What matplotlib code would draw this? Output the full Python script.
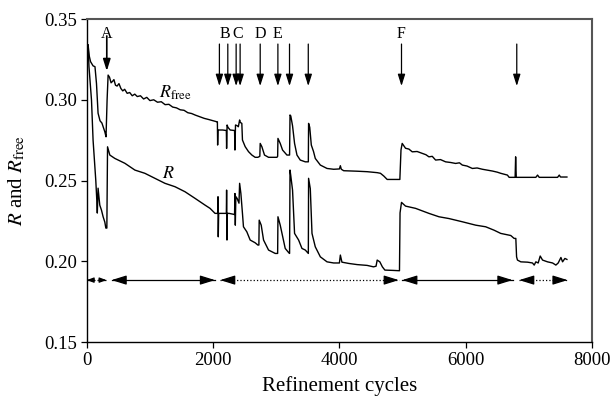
import numpy as np
import matplotlib
matplotlib.use("Agg")
import matplotlib.pyplot as plt

plt.rcParams['font.family'] = ['Liberation Serif', 'DejaVu Serif']
plt.rcParams['mathtext.fontset'] = 'stix'

# R_free trace (refinement cycle, value)
rfree_cyc = [21, 40, 60, 100, 130, 154, 179, 210, 240, 286, 305, 322, 338, 360, 385, 410, 430, 455, 480, 510,
             540, 570, 600, 640, 680, 720, 760, 800, 850, 900, 950, 1000, 1060, 1120, 1180, 1240, 1300, 1360,
             1420, 1480, 1540, 1600, 1660, 1720, 1790, 1860, 1930, 2000, 2058,
             2068, 2072, 2078, 2150, 2210, 2214, 2222, 2235, 2270, 2340, 2346, 2355, 2380, 2400, 2420, 2430,
             2455, 2465, 2508, 2561, 2614, 2666, 2709, 2740, 2746, 2772, 2814, 2878, 2950, 3011, 3022, 3027,
             3063, 3100, 3169, 3211, 3218, 3230, 3258, 3290, 3328, 3380, 3460, 3508, 3512, 3530, 3555, 3590,
             3618, 3698, 3804, 3909, 4000, 4015, 4030, 4068, 4280, 4439, 4598, 4650, 4703, 4756, 4957, 4975,
             4994, 5047, 5100, 5153, 5230, 5312, 5370, 5417, 5470, 5523, 5600, 5681, 5760, 5840, 5900, 5946,
             6020, 6105, 6180, 6264, 6340, 6423, 6500, 6554, 6660, 6687, 6782, 6790, 6800, 7110, 7137, 7163,
             7454, 7481, 7500, 7602]
rfree_val = [0.334, 0.327, 0.3236, 0.321, 0.3205, 0.310, 0.2917, 0.287, 0.2856, 0.2802, 0.2771, 0.300, 0.3153,
             0.314, 0.3105, 0.3115, 0.3125, 0.309, 0.3085, 0.310, 0.307, 0.3055, 0.3065, 0.304, 0.3045, 0.3025,
             0.3035, 0.302, 0.3025, 0.3005, 0.3015, 0.2995, 0.300, 0.2985, 0.2988, 0.297, 0.2972, 0.2955, 0.295,
             0.2938, 0.2935, 0.292, 0.2915, 0.2905, 0.2895, 0.2885, 0.2878, 0.287, 0.2864,
             0.2864, 0.272, 0.2813, 0.2813, 0.281, 0.2699, 0.2844, 0.283, 0.2813, 0.281, 0.2689, 0.2844, 0.284,
             0.2833, 0.2875, 0.286, 0.2854, 0.2751, 0.271, 0.2679, 0.2658, 0.2644, 0.2644, 0.265, 0.273, 0.271,
             0.2658, 0.2644, 0.2644, 0.2644, 0.265, 0.2761, 0.273, 0.2689, 0.2658, 0.2658, 0.2906, 0.290, 0.2839,
             0.273, 0.2658, 0.2627, 0.2616, 0.2616, 0.2854, 0.283, 0.272, 0.268, 0.2637, 0.2596, 0.2575, 0.257,
             0.2572, 0.2592, 0.257, 0.2561, 0.2558, 0.2555, 0.2549, 0.2545, 0.2528, 0.2507, 0.2507, 0.269, 0.273,
             0.270, 0.2695, 0.2678, 0.268, 0.2668, 0.266, 0.2647, 0.265, 0.2627, 0.263, 0.2616, 0.2612, 0.2606,
             0.261, 0.2596, 0.259, 0.2575, 0.2578, 0.257, 0.2565, 0.2559, 0.2552, 0.2545, 0.2534, 0.252, 0.252,
             0.2647, 0.252, 0.252, 0.2534, 0.252, 0.252, 0.2534, 0.2522, 0.2522]

# R trace
r_cyc = [21, 35, 75, 100, 143, 159, 167, 179, 206, 233, 259, 286, 302, 318, 329, 365, 445, 603, 762, 920,
         1079, 1238, 1397, 1555, 1714, 1873, 1952, 2031, 2074, 2078, 2082, 2088, 2111, 2210, 2214, 2220, 2226,
         2254, 2340, 2346, 2352, 2360, 2380, 2410, 2420, 2440, 2465, 2481, 2534, 2587, 2666, 2709, 2725, 2730,
         2762, 2799, 2878, 2984, 3022, 3027, 3063, 3142, 3195, 3211, 3218, 3230, 3258, 3290, 3354, 3407, 3460,
         3508, 3512, 3539, 3566, 3618, 3698, 3804, 3909, 4000, 4015, 4040, 4150, 4280, 4439, 4540, 4580, 4598,
         4640, 4680, 4720, 4850, 4951, 4960, 4983, 5047, 5206, 5417, 5576, 5734, 5946, 6158, 6316, 6448, 6554,
         6713, 6766, 6793, 6805, 6819, 6872, 6978, 7057, 7084, 7110, 7147, 7179, 7216, 7295, 7375, 7427, 7464,
         7507, 7533, 7570, 7602]
r_val = [0.334, 0.3205, 0.2998, 0.275, 0.250, 0.2379, 0.2299, 0.2453, 0.2348, 0.2317, 0.2276, 0.2243, 0.2206,
         0.2206, 0.2709, 0.2658, 0.2637, 0.2607, 0.2565, 0.2545, 0.2514, 0.2483, 0.2462, 0.2431, 0.239, 0.2348,
         0.2328, 0.2297, 0.2297, 0.240, 0.2152, 0.2297, 0.2297, 0.2297, 0.2441, 0.2132, 0.2297, 0.2297, 0.229,
         0.242, 0.2224, 0.240, 0.239, 0.236, 0.2483, 0.242, 0.2297, 0.2214, 0.2183, 0.2132, 0.2115, 0.2101,
         0.2101, 0.2255, 0.2224, 0.2132, 0.207, 0.2049, 0.2049, 0.2276, 0.2224, 0.208, 0.2055, 0.2049, 0.2565,
         0.253, 0.2441, 0.2173, 0.2132, 0.208, 0.207, 0.2049, 0.2514, 0.245, 0.2173, 0.209, 0.2028, 0.1997,
         0.199, 0.199, 0.2039, 0.1995, 0.1987, 0.198, 0.1975, 0.1966, 0.197, 0.2008, 0.1997, 0.1966, 0.1946,
         0.1944, 0.1942, 0.230, 0.2365, 0.2342, 0.2328, 0.2297, 0.2276, 0.2265, 0.2245, 0.2224, 0.2214, 0.2193,
         0.2173, 0.216, 0.2142, 0.2142, 0.2028, 0.2008, 0.1997, 0.1995, 0.199, 0.1977, 0.1997, 0.199, 0.2033,
         0.2008, 0.1997, 0.199, 0.1977, 0.199, 0.2024, 0.1997, 0.2018, 0.2012]

# event arrows
event_x = [317, 2100, 2233, 2365, 2428, 2746, 3026, 3210, 3507, 4983, 6808]
event_labels = ['A', 'B', 'C', 'D', 'E', 'F']
event_label_x = [317, 2195, 2395, 2746, 3026, 4983]

# range arrows at the bottom: (start, end, style)
range_start = [0, 392, 2111, 4994, 6845]
range_end = [312, 2031, 4941, 6741, 7613]
range_style = ['-.', '-', ':', '-', ':']

fig = plt.figure(figsize=(6.11, 3.96), dpi=100)
ax = fig.add_axes([0.142, 0.136, 0.827, 0.816])

ax.plot(rfree_cyc, rfree_val, color='k', lw=1.0)
ax.plot(r_cyc, r_val, color='k', lw=1.0)

for i, x in enumerate(event_x):
    if i == 0:
        top, tip, lw = 0.3395, 0.3178, 1.2
    else:
        top, tip, lw = 0.3345, 0.3085, 0.9
    ax.annotate('', xy=(x, tip), xytext=(x, top),
                arrowprops=dict(arrowstyle='-|>,head_length=0.7,head_width=0.22',
                                color='k', lw=lw, shrinkA=0, shrinkB=0))
for lab, x in zip(event_labels, event_label_x):
    ax.text(x, 0.3405, lab, ha='center', va='center', fontsize=11.5)

y_arr = 0.1884
for x0, x1, ls in zip(range_start, range_end, range_style):
    small = ls == '-.'
    ax.plot([x0, x1], [y_arr, y_arr], color='k', lw=0.9, linestyle=ls)
    d = 120 if small else 220
    hs = '-|>,head_length=0.4,head_width=0.15' if small else '-|>,head_length=0.9,head_width=0.28'
    ax.annotate('', xy=(x0, y_arr), xytext=(x0 + d, y_arr),
                arrowprops=dict(arrowstyle=hs, color='k', lw=0.9, shrinkA=0, shrinkB=0))
    ax.annotate('', xy=(x1, y_arr), xytext=(x1 - d, y_arr),
                arrowprops=dict(arrowstyle=hs, color='k', lw=0.9, shrinkA=0, shrinkB=0))

ax.text(1150, 0.3042, r'$R_{\rm free}$', fontsize=13, ha='left', va='center')
ax.text(1190, 0.2546, r'$R$', fontsize=13, ha='left', va='center')

ax.set_xlim(0, 8000)
ax.set_ylim(0.15, 0.35)
ax.set_xticks([0, 2000, 4000, 6000, 8000])
ax.set_yticks([0.15, 0.20, 0.25, 0.30, 0.35])
ax.set_yticklabels(['0.15', '0.20', '0.25', '0.30', '0.35'])
ax.tick_params(axis='both', direction='out', length=4, width=0.9, labelsize=13.5, pad=3)

for s in ['top', 'right']:
    ax.spines[s].set_color('#555555')
    ax.spines[s].set_linewidth(1.5)
for s in ['left', 'bottom']:
    ax.spines[s].set_linewidth(1.0)

ax.set_xlabel('Refinement cycles', fontsize=15)
ax.set_ylabel(r'$R$ and $R_{\rm free}$', fontsize=15)
ax.xaxis.set_label_coords(0.5, -0.105)
ax.yaxis.set_label_coords(-0.117, 0.5)

fig.savefig('out.png', dpi=100)
